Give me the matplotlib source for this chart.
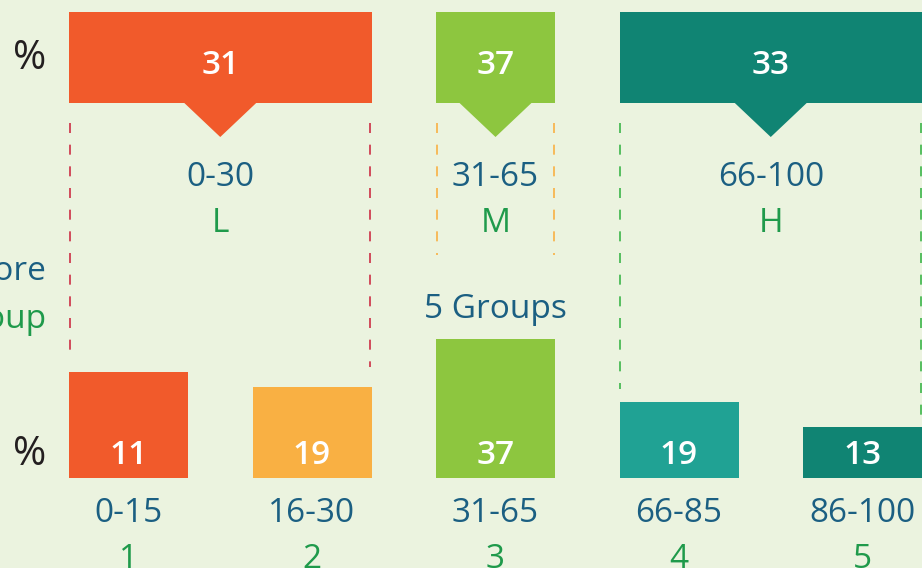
import matplotlib.pyplot as plt

# score bands (top row)
band_ranges = ['0-30', '31-65', '66-100']
band_codes = ['L', 'M', 'H']
band_pct = [31, 37, 33]
band_members = [[0, 1], [2], [3, 4]]

# five groups (bottom row)
group_ranges = ['0-15', '16-30', '31-65', '66-85', '86-100']
group_ids = ['1', '2', '3', '4', '5']
group_pct = [11, 19, 37, 19, 13]
# drawn bar heights (not proportional to %)
group_heights = [106, 91, 139, 76, 51]

# styling
bg = '#ebf3df'
dark_blue = '#1b5f82'
green_txt = '#1f9a4b'
band_colors = ['#f15a2b', '#8dc63f', '#108473']
dash_colors = ['#cc2f45', '#f9b043', '#3cb54a']
group_colors = ['#f15a2b', '#f9b043', '#8dc63f', '#20a294', '#108473']

plt.rcParams['font.family'] = ['Open Sans', 'DejaVu Sans']

fig = plt.figure(figsize=(9.22, 5.68), dpi=100, facecolor=bg)
ax = fig.add_axes([0, 0, 1, 1])
ax.set_xlim(0, 922)
ax.set_ylim(568, 0)
ax.axis('off')

# layout in pixel units
x0, step, bw = 128.5, 183.5, 119
base = 478
fs = 24
centers = [x0 + step * i for i in range(len(group_pct))]

# bottom bars
ax.bar(centers, group_heights, width=bw, bottom=[base - h for h in group_heights],
       color=group_colors, linewidth=0)
for x, p, r, g in zip(centers, group_pct, group_ranges, group_ids):
    ax.text(x, 456, str(p), color='white', fontsize=fs, fontweight='semibold',
            ha='center', va='center')
    ax.text(x, 513, r, color=dark_blue, fontsize=fs, ha='center', va='center')
    ax.text(x, 560, g, color=green_txt, fontsize=fs, ha='center', va='center')

# top bands with pointer
top, box_h, tip_w, tip_y = 12, 91, 37, 137
dash_ends = [(353, 367), (255, 255), (389, 415)]
for i, members in enumerate(band_members):
    left = centers[members[0]] - bw / 2
    right = centers[members[-1]] + bw / 2
    mid = (left + right) / 2
    ax.bar(mid, box_h, width=right - left, bottom=top, color=band_colors[i], linewidth=0)
    ax.fill([mid - tip_w, mid + tip_w, mid], [top + box_h - 1, top + box_h - 1, tip_y],
            color=band_colors[i], linewidth=0)
    ax.text(mid, 66, str(band_pct[i]), color='white', fontsize=fs, fontweight='semibold',
            ha='center', va='center')
    ax.text(mid, 178, band_ranges[i], color=dark_blue, fontsize=fs, ha='center', va='center')
    ax.text(mid, 224, band_codes[i], color=green_txt, fontsize=fs, ha='center', va='center')
    for xe, ye in zip([left + 0.5, right - 1.5], dash_ends[i]):
        ax.plot([xe, xe], [123, ye], color=dash_colors[i], lw=1.2,
                linestyle=(0, (6, 7)))

ax.text(centers[2], 309, '5 Groups', color=dark_blue, fontsize=fs, ha='center', va='center')

# row labels on the left (cut off by the edge)
ax.text(30, 59, '%', color='#231f20', fontsize=29, ha='center', va='center')
ax.text(30, 455, '%', color='#231f20', fontsize=29, ha='center', va='center')
ax.text(46, 271, 'Score', color=dark_blue, fontsize=fs, ha='right', va='center')
ax.text(46, 319, 'Group', color=green_txt, fontsize=fs, ha='right', va='center')

plt.savefig('out.png', dpi=100, facecolor=bg)
